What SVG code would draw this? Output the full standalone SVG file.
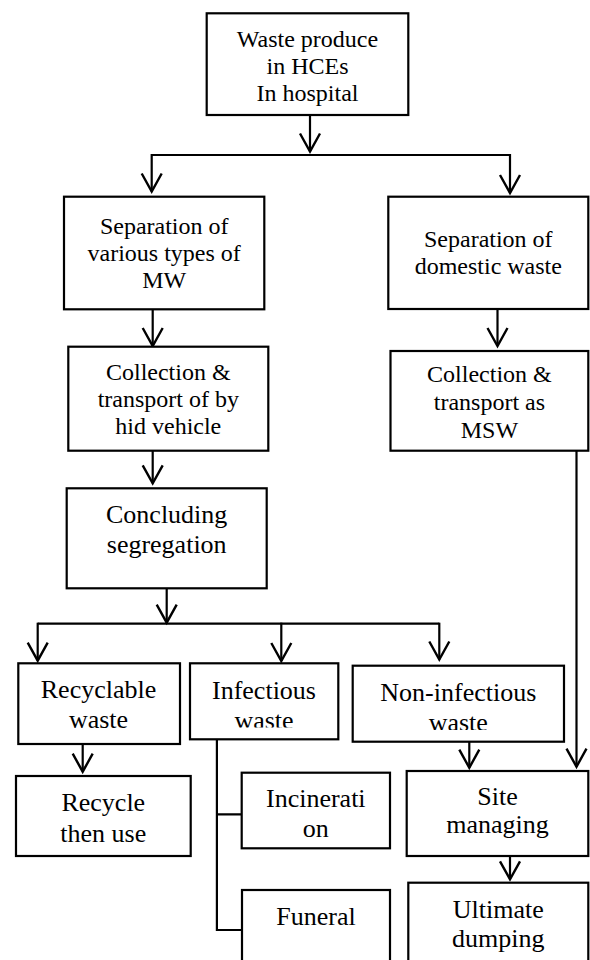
<svg xmlns="http://www.w3.org/2000/svg" width="590" height="960" viewBox="0 0 590 960">
<style>
  .box { fill: #ffffff; stroke: #000000; stroke-width: 2.2; }
  .t { font-family: "Liberation Serif", "Times New Roman", serif; font-size: 24px; text-anchor: middle; fill: #000000; }
  .t.big { font-size: 26px; }
  .c { fill: none; stroke: #000000; stroke-width: 2.2; }
  .a { marker-end: url(#arr); }
</style>
<defs>
  <marker id="arr" markerUnits="userSpaceOnUse" viewBox="-20 -12 22 24" markerWidth="22" markerHeight="24" refX="0" refY="0" orient="auto" overflow="visible">
    <path d="M-18,-10 L0,0 L-18,10" fill="none" stroke="#000000" stroke-width="2.4"/>
  </marker>
  <clipPath id="clipInf"><rect x="190" y="663" width="149" height="64.5"/></clipPath>
  <clipPath id="clipNon"><rect x="352" y="665" width="213" height="65"/></clipPath>
</defs>
<rect x="0" y="0" width="590" height="960" fill="#ffffff"/>

<g id="connectors">
  <line class="c a" x1="310" y1="115" x2="310" y2="151.5"/>
  <line class="c" x1="151.7" y1="155" x2="510" y2="155"/>
  <line class="c a" x1="151.7" y1="154" x2="151.7" y2="191.5"/>
  <line class="c a" x1="510" y1="154" x2="510" y2="193"/>
  <line class="c a" x1="152.7" y1="309.3" x2="152.7" y2="346"/>
  <line class="c a" x1="497.5" y1="309" x2="497.5" y2="346"/>
  <line class="c a" x1="152.7" y1="450.7" x2="152.7" y2="483.3"/>
  <line class="c a" x1="166.7" y1="588.3" x2="166.7" y2="622.7"/>
  <line class="c" x1="37.7" y1="623.7" x2="439.3" y2="623.7"/>
  <line class="c a" x1="37.7" y1="622.7" x2="37.7" y2="660.7"/>
  <line class="c a" x1="281.3" y1="622.7" x2="281.3" y2="661"/>
  <line class="c a" x1="439.3" y1="622.7" x2="439.3" y2="659.5"/>
  <line class="c a" x1="82.7" y1="744" x2="82.7" y2="771.7"/>
  <path class="c" d="M216.9,738 V930 H242 M216.9,814.3 H242"/>
  <line class="c a" x1="469.3" y1="741.7" x2="469.3" y2="767.7"/>
  <line class="c a" x1="576.5" y1="449" x2="576.5" y2="766.7"/>
  <line class="c a" x1="510" y1="856" x2="510" y2="879.3"/>
</g>

<g id="n1">
  <rect class="box" x="206.7" y="13.3" width="201.6" height="101.7"/>
  <text class="t" x="307.5" y="46.7">Waste produce</text>
  <text class="t" x="307.5" y="74">in HCEs</text>
  <text class="t" x="307.5" y="100.7">In hospital</text>
</g>
<g id="n2">
  <rect class="box" x="64" y="196.7" width="200.3" height="112.6"/>
  <text class="t" x="164.2" y="234">Separation of</text>
  <text class="t" x="164.2" y="261">various types of</text>
  <text class="t" x="164.2" y="288.3">MW</text>
</g>
<g id="n3">
  <rect class="box" x="388.3" y="196.7" width="200" height="112.3"/>
  <text class="t" x="488.3" y="246.7">Separation of</text>
  <text class="t" x="488.3" y="274.3">domestic waste</text>
</g>
<g id="n4">
  <rect class="box" x="68.3" y="346.7" width="200" height="104"/>
  <text class="t" x="168.3" y="380">Collection &amp;</text>
  <text class="t" x="168.3" y="406.7">transport of by</text>
  <text class="t" x="168.3" y="434.3">hid vehicle</text>
</g>
<g id="n5">
  <rect class="box" x="390.5" y="351" width="197.8" height="99.7"/>
  <text class="t" x="489.4" y="381.5">Collection &amp;</text>
  <text class="t" x="489.4" y="410">transport as</text>
  <text class="t" x="489.4" y="438.3">MSW</text>
</g>
<g id="n6">
  <rect class="box" x="66.7" y="488.3" width="200" height="100"/>
  <text class="t big" x="166.7" y="522.7">Concluding</text>
  <text class="t big" x="166.7" y="553.3">segregation</text>
</g>
<g id="n7">
  <rect class="box" x="18.3" y="663.3" width="161.7" height="80.7"/>
  <text class="t big" x="98.5" y="698.3">Recyclable</text>
  <text class="t big" x="98.5" y="728.3">waste</text>
</g>
<g id="n8">
  <rect class="box" x="190" y="663.3" width="148.3" height="76"/>
  <g clip-path="url(#clipInf)">
    <text class="t big" x="264" y="699">Infectious</text>
    <text class="t big" x="264" y="729">waste</text>
  </g>
</g>
<g id="n9">
  <rect class="box" x="352.7" y="665.7" width="211.3" height="76"/>
  <g clip-path="url(#clipNon)">
    <text class="t big" x="458.3" y="701">Non-infectious</text>
    <text class="t big" x="458.3" y="731">waste</text>
  </g>
</g>
<g id="n10">
  <rect class="box" x="16" y="776" width="174.7" height="80"/>
  <text class="t big" x="103.3" y="810.7">Recycle</text>
  <text class="t big" x="103.3" y="841.7">then use</text>
</g>
<g id="n11">
  <rect class="box" x="241.7" y="772.7" width="148.3" height="75.6"/>
  <text class="t big" x="315.8" y="807.3">Incinerati</text>
  <text class="t big" x="315.8" y="837.3">on</text>
</g>
<g id="n12">
  <rect class="box" x="242" y="890" width="148" height="80"/>
  <text class="t big" x="316" y="925">Funeral</text>
</g>
<g id="n13">
  <rect class="box" x="406.7" y="771" width="181.6" height="85"/>
  <text class="t big" x="497.5" y="805">Site</text>
  <text class="t big" x="497.5" y="833.3">managing</text>
</g>
<g id="n14">
  <rect class="box" x="408.3" y="882.7" width="180" height="87.3"/>
  <text class="t big" x="498.3" y="918.3">Ultimate</text>
  <text class="t big" x="498.3" y="946.7">dumping</text>
</g>
</svg>
